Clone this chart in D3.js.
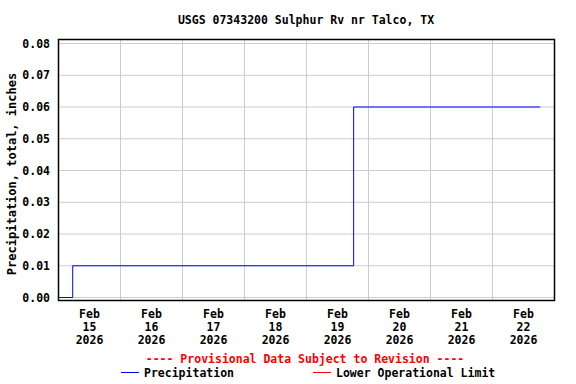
<!DOCTYPE html>
<html>
<head>
<meta charset="utf-8">
<script src="https://cdn.jsdelivr.net/npm/d3@7"></script>
<style>
  body { margin: 0; background: #fff; }
  text { font-family: "DejaVu Sans Mono", "Liberation Mono", monospace; font-weight: bold; font-size: 11.5px; }
</style>
</head>
<body>
<script>
// Precipitation change points (local times)
const times = ["2026-02-15T00:00", "2026-02-15T05:30", "2026-02-19T18:15", "2026-02-22T18:30"];
const values = [0.00, 0.01, 0.06, 0.06];
const yTicks = [0.00, 0.01, 0.02, 0.03, 0.04, 0.05, 0.06, 0.07, 0.08];
const dayLabels = ["15", "16", "17", "18", "19", "20", "21", "22"];

const width = 576, height = 384;
const parse = d3.utcParse("%Y-%m-%dT%H:%M");
const data = times.map((t, i) => ({ t: parse(t), v: values[i] }));

const svg = d3.select('body').append('svg')
    .attr('width', width)
    .attr('height', height);

const plotLeft = 58.5, plotRight = 554.5, plotTop = 39.5, plotBottom = 300.5;

const x = d3.scaleUtc()
    .domain([parse("2026-02-15T00:00"), parse("2026-02-23T00:00")])
    .range([plotLeft, plotRight]);

const y = d3.scaleLinear()
    .domain([0, 0.08])
    .range([297.5, 43.5]);

// Title
svg.append('text')
    .attr('x', 306).attr('y', 24)
    .attr('text-anchor', 'middle')
    .text("USGS 07343200 Sulphur Rv nr Talco, TX");

// Grid
const grid = svg.append('g').attr('stroke', '#cccccc').attr('stroke-width', 1);
grid.selectAll('line.h')
    .data(yTicks)
    .join('line')
    .attr('class', 'h')
    .attr('x1', plotLeft).attr('x2', plotRight)
    .attr('y1', d => y(d)).attr('y2', d => y(d));

const midnights = d3.utcDay.range(parse("2026-02-16T00:00"), parse("2026-02-23T00:00"));
grid.selectAll('line.v')
    .data(midnights)
    .join('line')
    .attr('class', 'v')
    .attr('x1', d => x(d)).attr('x2', d => x(d))
    .attr('y1', plotTop).attr('y2', plotBottom);

// Y axis labels
svg.append('g')
    .selectAll('text')
    .data(yTicks)
    .join('text')
    .attr('x', 50)
    .attr('y', d => y(d) + 4)
    .attr('text-anchor', 'end')
    .text(d3.format('.2f'));

svg.append('text')
    .attr('transform', 'translate(16, 174) rotate(-90)')
    .attr('text-anchor', 'middle')
    .style('font-size', '12px')
    .text("Precipitation, total, inches");

// X axis labels at noon of each day
const noons = dayLabels.map(d => parse(`2026-02-${d}T12:00`));
const xl = svg.append('g')
    .selectAll('text')
    .data(noons)
    .join('text')
    .attr('text-anchor', 'middle')
    .attr('x', d => x(d));
xl.append('tspan').attr('x', d => x(d)).attr('y', 318).text('Feb');
xl.append('tspan').attr('x', d => x(d)).attr('y', 331).text((d, i) => dayLabels[i]);
xl.append('tspan').attr('x', d => x(d)).attr('y', 344).text('2026');

// Data line
const line = d3.line()
    .x(d => x(d.t))
    .y(d => y(d.v))
    .curve(d3.curveStepAfter);

svg.append('path')
    .datum(data)
    .attr('fill', 'none')
    .attr('stroke', '#0000ff')
    .attr('stroke-width', 1)
    .attr('d', line);

// Frame
svg.append('rect')
    .attr('x', plotLeft).attr('y', plotTop)
    .attr('width', plotRight - plotLeft).attr('height', plotBottom - plotTop)
    .attr('fill', 'none')
    .attr('stroke', '#000')
    .attr('stroke-width', 1.5);

// Legend
svg.append('text')
    .attr('x', 305).attr('y', 363)
    .attr('text-anchor', 'middle')
    .attr('fill', '#ff0000')
    .text("---- Provisional Data Subject to Revision ----");

svg.append('line')
    .attr('x1', 121).attr('x2', 139).attr('y1', 372.5).attr('y2', 372.5)
    .attr('stroke', '#0000ff');
svg.append('text').attr('x', 144).attr('y', 377).text("Precipitation");

svg.append('line')
    .attr('x1', 313).attr('x2', 331).attr('y1', 372.5).attr('y2', 372.5)
    .attr('stroke', '#ff0000');
svg.append('text').attr('x', 336).attr('y', 377).text("Lower Operational Limit");
</script>
</body>
</html>
